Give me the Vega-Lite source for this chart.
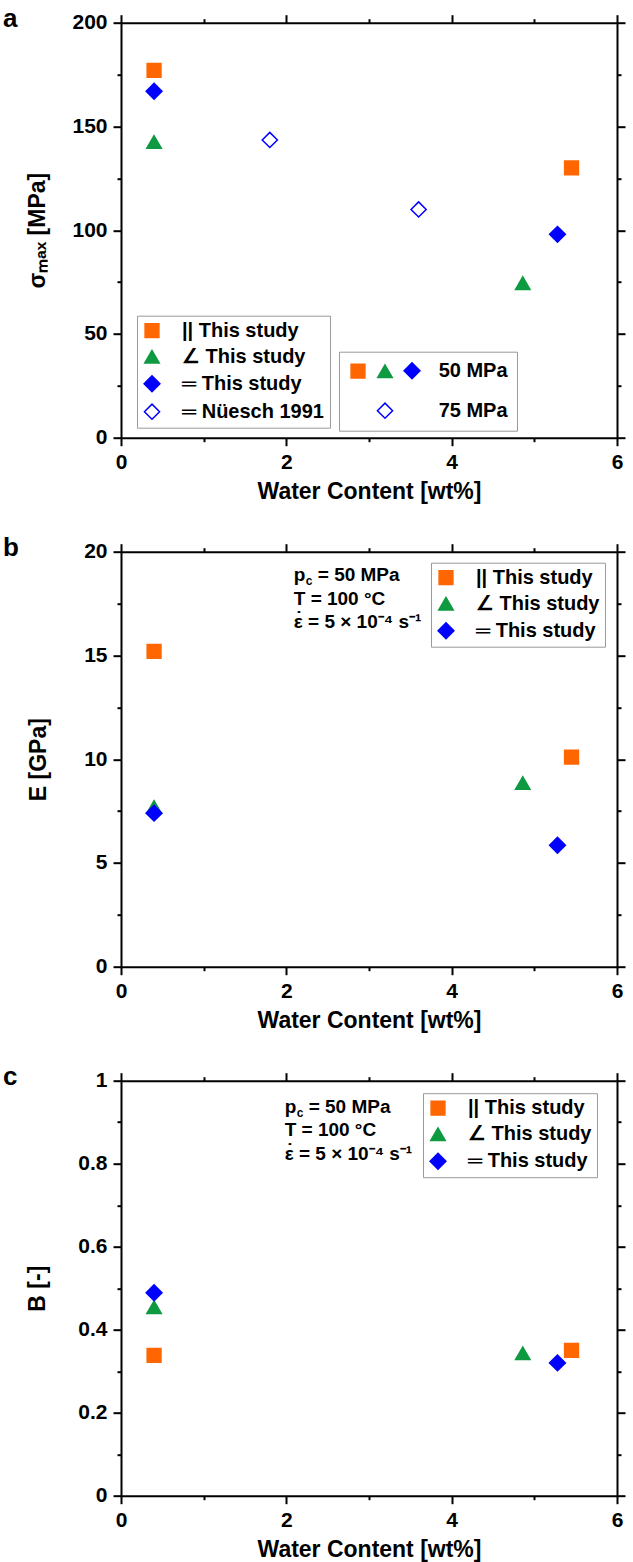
{
  "$schema": "https://vega.github.io/schema/vega-lite/v6.json",
  "padding": {"left": 3, "top": 5.7, "right": 0, "bottom": 0},
  "spacing": 31,
  "datasets": {
    "a": [
      {"wc": 0.4, "val": 177, "series": "|| This study", "pc": "50 MPa"},
      {"wc": 5.45, "val": 130, "series": "|| This study", "pc": "50 MPa"},
      {"wc": 0.4, "val": 142.5, "series": "∠ This study", "pc": "50 MPa"},
      {"wc": 4.86, "val": 74.5, "series": "∠ This study", "pc": "50 MPa"},
      {"wc": 0.4, "val": 167, "series": "═ This study", "pc": "50 MPa"},
      {"wc": 5.28, "val": 98, "series": "═ This study", "pc": "50 MPa"},
      {"wc": 1.8, "val": 143.5, "series": "═ Nüesch 1991", "pc": "75 MPa"},
      {"wc": 3.6, "val": 110, "series": "═ Nüesch 1991", "pc": "75 MPa"}
    ],
    "b": [
      {"wc": 0.4, "val": 15.2, "series": "|| This study"},
      {"wc": 5.45, "val": 10.1, "series": "|| This study"},
      {"wc": 0.4, "val": 7.7, "series": "∠ This study"},
      {"wc": 4.86, "val": 8.85, "series": "∠ This study"},
      {"wc": 0.4, "val": 7.4, "series": "═ This study"},
      {"wc": 5.28, "val": 5.85, "series": "═ This study"}
    ],
    "c": [
      {"wc": 0.4, "val": 0.338, "series": "|| This study"},
      {"wc": 5.45, "val": 0.35, "series": "|| This study"},
      {"wc": 0.4, "val": 0.454, "series": "∠ This study"},
      {"wc": 4.86, "val": 0.343, "series": "∠ This study"},
      {"wc": 0.4, "val": 0.489, "series": "═ This study"},
      {"wc": 5.28, "val": 0.32, "series": "═ This study"}
    ]
  },
  "config": {
    "font": "Liberation Sans",
    "view": {"stroke": null},
    "axis": {
      "domainColor": "black", "domainWidth": 2, "tickColor": "black", "tickWidth": 2,
      "grid": false, "labelFont": "Liberation Sans", "labelFontSize": 21, "labelFontWeight": "bold",
      "labelColor": "black", "titleFont": "Liberation Sans", "titleFontSize": 23, "titleFontWeight": "bold",
      "titleColor": "black", "labelPadding": 6, "labelFlush": false, "labelOverlap": false
    },
    "legend": {
      "labelFont": "Liberation Sans", "labelFontSize": 20, "labelFontWeight": "bold", "labelColor": "black",
      "strokeColor": "#9a9a9a", "fillColor": "white", "padding": 5, "symbolStrokeWidth": 1.5,
      "labelLimit": 400, "symbolOpacity": 1
    },
    "title": {"font": "Liberation Sans", "fontSize": 26, "fontWeight": "bold", "color": "black"}
  },
  "resolve": {
    "scale": {"shape": "independent", "fill": "independent", "stroke": "independent", "size": "independent"},
    "legend": {"shape": "independent", "fill": "independent", "stroke": "independent", "size": "independent"}
  },
  "vconcat": [
    {
      "width": 496, "height": 415,
      "title": {"text": "a", "anchor": "start", "frame": "group", "orient": "top", "offset": 0, "dx": -118, "dy": 41.5, "baseline": "alphabetic"},
      "data": {"name": "a"},
      "resolve": {
        "axis": {"x": "independent", "y": "independent"},
        "scale": {"shape": "independent", "fill": "independent", "stroke": "independent", "size": "independent"},
        "legend": {"shape": "independent", "fill": "independent", "stroke": "independent", "size": "independent"}
      },
      "layer": [
        {
          "mark": {"type": "point", "strokeWidth": 1.5, "opacity": 1},
          "encoding": {
            "x": {"field": "wc", "type": "quantitative", "scale": {"domain": [0, 6], "nice": false, "zero": false},
              "axis": {"orient": "bottom", "values": [0, 2, 4, 6], "tickSize": 8, "title": "Water Content [wt%]", "titlePadding": 8}},
            "y": {"field": "val", "type": "quantitative", "scale": {"domain": [0, 200], "nice": false},
              "axis": {"orient": "left", "values": [0, 50, 100, 150, 200], "tickSize": 8, "title": "σₘₐₓ [MPa]", "titlePadding": 22}},
            "fill": {"field": "series", "type": "nominal",
              "scale": {"domain": ["|| This study", "∠ This study", "═ This study", "═ Nüesch 1991"], "range": ["#FF6600", "#0E9A40", "#0000FF", "#FFFFFF"]},
              "legend": {"orient": "none", "legendX": 16, "legendY": 293, "title": null, "labelOffset": 20, "rowPadding": 6, "padding": 5}},
            "stroke": {"field": "series", "type": "nominal",
              "scale": {"domain": ["|| This study", "∠ This study", "═ This study", "═ Nüesch 1991"], "range": ["#FF6600", "#0E9A40", "#0000FF", "#0000FF"]}},
            "shape": {"field": "series", "type": "nominal",
              "scale": {"domain": ["|| This study", "∠ This study", "═ This study", "═ Nüesch 1991"], "range": ["square", "triangle-up", "diamond", "diamond"]}},
            "size": {"field": "series", "type": "nominal",
              "scale": {"type": "ordinal", "domain": ["|| This study", "∠ This study", "═ This study", "═ Nüesch 1991"], "range": [190, 210, 250, 230]}}
          }
        },
        {
          "transform": [{"filter": "false"}],
          "mark": {"type": "point", "strokeWidth": 1.5, "opacity": 1},
          "encoding": {
            "x": {"field": "wc", "type": "quantitative", "axis": null},
            "y": {"field": "val", "type": "quantitative", "axis": null},
            "fill": {"field": "pc", "type": "nominal",
              "scale": {"domain": ["50 MPa a", "50 MPa b", "50 MPa", "75 MPa a", "75 MPa b", "75 MPa"], "range": ["#FF6600", "#0E9A40", "#0000FF", "transparent", "#FFFFFF", "transparent"]},
              "legend": {
                "orient": "none", "legendX": 218, "legendY": 329, "title": null, "columns": 3, "direction": "horizontal",
                "labelOffset": 0, "columnPadding": 5, "rowPadding": 18, "padding": 9,
                "labelExpr": "(datum.label == '50 MPa' || datum.label == '75 MPa') ? '\u200b\u00a0\u00a0\u00a0' + datum.label : ''"
              }},
            "stroke": {"field": "pc", "type": "nominal",
              "scale": {"domain": ["50 MPa a", "50 MPa b", "50 MPa", "75 MPa a", "75 MPa b", "75 MPa"], "range": ["#FF6600", "#0E9A40", "#0000FF", "transparent", "#0000FF", "transparent"]}},
            "shape": {"field": "pc", "type": "nominal",
              "scale": {"domain": ["50 MPa a", "50 MPa b", "50 MPa", "75 MPa a", "75 MPa b", "75 MPa"], "range": ["square", "triangle-up", "diamond", "diamond", "diamond", "diamond"]}},
            "size": {"field": "pc", "type": "nominal",
              "scale": {"type": "ordinal", "domain": ["50 MPa a", "50 MPa b", "50 MPa", "75 MPa a", "75 MPa b", "75 MPa"], "range": [190, 210, 250, 250, 230, 250]}}
          }
        },
        {
          "mark": {"type": "point", "opacity": 0},
          "encoding": {
            "x": {"field": "wc", "type": "quantitative", "axis": {"orient": "bottom", "values": [1, 3, 5], "tickSize": 4, "labels": false, "domain": false, "title": null}},
            "y": {"field": "val", "type": "quantitative", "axis": {"orient": "left", "values": [25, 75, 125, 175], "tickSize": 4, "labels": false, "domain": false, "title": null}}
          }
        },
        {
          "mark": {"type": "point", "opacity": 0},
          "encoding": {
            "x": {"field": "wc", "type": "quantitative", "axis": {"orient": "top", "values": [0, 2, 4, 6], "tickSize": 8, "labels": false, "title": null}},
            "y": {"field": "val", "type": "quantitative", "axis": {"orient": "right", "values": [0, 50, 100, 150, 200], "tickSize": 8, "labels": false, "title": null}}
          }
        },
        {
          "mark": {"type": "point", "opacity": 0},
          "encoding": {
            "x": {"field": "wc", "type": "quantitative", "axis": {"orient": "top", "values": [1, 3, 5], "tickSize": 4, "labels": false, "domain": false, "title": null}},
            "y": {"field": "val", "type": "quantitative", "axis": {"orient": "right", "values": [25, 75, 125, 175], "tickSize": 4, "labels": false, "domain": false, "title": null}}
          }
        }
      ]
    },
    {
      "width": 496, "height": 415,
      "title": {"text": "b", "anchor": "start", "frame": "group", "orient": "top", "offset": 0, "dx": -118, "dy": 41.5, "baseline": "alphabetic"},
      "data": {"name": "b"},
      "resolve": {"axis": {"x": "independent", "y": "independent"}},
      "layer": [
        {
          "mark": {"type": "point", "strokeWidth": 1.5, "opacity": 1},
          "encoding": {
            "x": {"field": "wc", "type": "quantitative", "scale": {"domain": [0, 6], "nice": false, "zero": false},
              "axis": {"orient": "bottom", "values": [0, 2, 4, 6], "tickSize": 8, "title": "Water Content [wt%]", "titlePadding": 8}},
            "y": {"field": "val", "type": "quantitative", "scale": {"domain": [0, 20], "nice": false},
              "axis": {"orient": "left", "values": [0, 5, 10, 15, 20], "tickSize": 8, "title": "E [GPa]", "titlePadding": 33}},
            "fill": {"field": "series", "type": "nominal",
              "scale": {"domain": ["|| This study", "∠ This study", "═ This study"], "range": ["#FF6600", "#0E9A40", "#0000FF"]},
              "legend": {"orient": "none", "legendX": 310, "legendY": 11, "title": null, "labelOffset": 20, "rowPadding": 6, "padding": 5}},
            "stroke": {"field": "series", "type": "nominal",
              "scale": {"domain": ["|| This study", "∠ This study", "═ This study"], "range": ["#FF6600", "#0E9A40", "#0000FF"]}},
            "shape": {"field": "series", "type": "nominal",
              "scale": {"domain": ["|| This study", "∠ This study", "═ This study"], "range": ["square", "triangle-up", "diamond"]}},
            "size": {"field": "series", "type": "nominal",
              "scale": {"type": "ordinal", "domain": ["|| This study", "∠ This study", "═ This study"], "range": [190, 210, 250]}}
          }
        },
        {
          "mark": {"type": "point", "opacity": 0},
          "encoding": {
            "x": {"field": "wc", "type": "quantitative", "axis": {"orient": "bottom", "values": [1, 3, 5], "tickSize": 4, "labels": false, "domain": false, "title": null}},
            "y": {"field": "val", "type": "quantitative", "axis": {"orient": "left", "values": [2.5, 7.5, 12.5, 17.5], "tickSize": 4, "labels": false, "domain": false, "title": null}}
          }
        },
        {
          "mark": {"type": "point", "opacity": 0},
          "encoding": {
            "x": {"field": "wc", "type": "quantitative", "axis": {"orient": "top", "values": [0, 2, 4, 6], "tickSize": 8, "labels": false, "title": null}},
            "y": {"field": "val", "type": "quantitative", "axis": {"orient": "right", "values": [0, 5, 10, 15, 20], "tickSize": 8, "labels": false, "title": null}}
          }
        },
        {
          "mark": {"type": "point", "opacity": 0},
          "encoding": {
            "x": {"field": "wc", "type": "quantitative", "axis": {"orient": "top", "values": [1, 3, 5], "tickSize": 4, "labels": false, "domain": false, "title": null}},
            "y": {"field": "val", "type": "quantitative", "axis": {"orient": "right", "values": [2.5, 7.5, 12.5, 17.5], "tickSize": 4, "labels": false, "domain": false, "title": null}}
          }
        },
        {
          "data": {"values": [{}]},
          "mark": {"type": "text", "align": "left", "baseline": "alphabetic", "fontSize": 19, "fontWeight": "bold", "font": "Liberation Sans", "color": "black"},
          "encoding": {
            "x": {"datum": 2.09, "type": "quantitative", "axis": null},
            "y": {"datum": 18.57, "type": "quantitative", "axis": null},
            "text": {"value": "p"}
          }
        },
        {
          "data": {"values": [{}]},
          "mark": {"type": "text", "align": "left", "baseline": "alphabetic", "fontSize": 12, "fontWeight": "bold", "font": "Liberation Sans", "dx": 12, "dy": 4, "color": "black"},
          "encoding": {
            "x": {"datum": 2.09, "type": "quantitative", "axis": null},
            "y": {"datum": 18.57, "type": "quantitative", "axis": null},
            "text": {"value": "c"}
          }
        },
        {
          "data": {"values": [{}]},
          "mark": {"type": "text", "align": "left", "baseline": "alphabetic", "fontSize": 19, "fontWeight": "bold", "font": "Liberation Sans", "dx": 24, "color": "black"},
          "encoding": {
            "x": {"datum": 2.09, "type": "quantitative", "axis": null},
            "y": {"datum": 18.57, "type": "quantitative", "axis": null},
            "text": {"value": "= 50 MPa"}
          }
        },
        {
          "data": {"values": [{}]},
          "mark": {"type": "text", "align": "left", "baseline": "alphabetic", "fontSize": 19, "fontWeight": "bold", "font": "Liberation Sans", "lineHeight": 23.5, "dy": 23.5, "color": "black"},
          "encoding": {
            "x": {"datum": 2.09, "type": "quantitative", "axis": null},
            "y": {"datum": 18.57, "type": "quantitative", "axis": null},
            "text": {"value": ["T = 100 °C", "ε = 5 × 10⁻⁴ s⁻¹"]}
          }
        },
        {
          "data": {"values": [{}]},
          "mark": {"type": "text", "align": "left", "baseline": "alphabetic", "fontSize": 19, "fontWeight": "bold", "font": "Liberation Sans", "dx": 2, "dy": 44, "color": "black"},
          "encoding": {
            "x": {"datum": 2.09, "type": "quantitative", "axis": null},
            "y": {"datum": 18.57, "type": "quantitative", "axis": null},
            "text": {"value": "˙"}
          }
        }
      ]
    },
    {
      "width": 496, "height": 415,
      "title": {"text": "c", "anchor": "start", "frame": "group", "orient": "top", "offset": 0, "dx": -118, "dy": 41.5, "baseline": "alphabetic"},
      "data": {"name": "c"},
      "resolve": {"axis": {"x": "independent", "y": "independent"}},
      "layer": [
        {
          "mark": {"type": "point", "strokeWidth": 1.5, "opacity": 1},
          "encoding": {
            "x": {"field": "wc", "type": "quantitative", "scale": {"domain": [0, 6], "nice": false, "zero": false},
              "axis": {"orient": "bottom", "values": [0, 2, 4, 6], "tickSize": 8, "title": "Water Content [wt%]", "titlePadding": 8}},
            "y": {"field": "val", "type": "quantitative", "scale": {"domain": [0, 1], "nice": false},
              "axis": {"orient": "left", "values": [0, 0.2, 0.4, 0.6, 0.8, 1], "format": "~g", "tickSize": 8, "title": "B [-]", "titlePadding": 28}},
            "fill": {"field": "series", "type": "nominal",
              "scale": {"domain": ["|| This study", "∠ This study", "═ This study"], "range": ["#FF6600", "#0E9A40", "#0000FF"]},
              "legend": {"orient": "none", "legendX": 302, "legendY": 12.5, "title": null, "labelOffset": 20, "rowPadding": 6, "padding": 5}},
            "stroke": {"field": "series", "type": "nominal",
              "scale": {"domain": ["|| This study", "∠ This study", "═ This study"], "range": ["#FF6600", "#0E9A40", "#0000FF"]}},
            "shape": {"field": "series", "type": "nominal",
              "scale": {"domain": ["|| This study", "∠ This study", "═ This study"], "range": ["square", "triangle-up", "diamond"]}},
            "size": {"field": "series", "type": "nominal",
              "scale": {"type": "ordinal", "domain": ["|| This study", "∠ This study", "═ This study"], "range": [190, 210, 250]}}
          }
        },
        {
          "mark": {"type": "point", "opacity": 0},
          "encoding": {
            "x": {"field": "wc", "type": "quantitative", "axis": {"orient": "bottom", "values": [1, 3, 5], "tickSize": 4, "labels": false, "domain": false, "title": null}},
            "y": {"field": "val", "type": "quantitative", "axis": {"orient": "left", "values": [0.1, 0.3, 0.5, 0.7, 0.9], "tickSize": 4, "labels": false, "domain": false, "title": null}}
          }
        },
        {
          "mark": {"type": "point", "opacity": 0},
          "encoding": {
            "x": {"field": "wc", "type": "quantitative", "axis": {"orient": "top", "values": [0, 2, 4, 6], "tickSize": 8, "labels": false, "title": null}},
            "y": {"field": "val", "type": "quantitative", "axis": {"orient": "right", "values": [0, 0.2, 0.4, 0.6, 0.8, 1], "tickSize": 8, "labels": false, "title": null}}
          }
        },
        {
          "mark": {"type": "point", "opacity": 0},
          "encoding": {
            "x": {"field": "wc", "type": "quantitative", "axis": {"orient": "top", "values": [1, 3, 5], "tickSize": 4, "labels": false, "domain": false, "title": null}},
            "y": {"field": "val", "type": "quantitative", "axis": {"orient": "right", "values": [0.1, 0.3, 0.5, 0.7, 0.9], "tickSize": 4, "labels": false, "domain": false, "title": null}}
          }
        },
        {
          "data": {"values": [{}]},
          "mark": {"type": "text", "align": "left", "baseline": "alphabetic", "fontSize": 19, "fontWeight": "bold", "font": "Liberation Sans", "color": "black"},
          "encoding": {
            "x": {"datum": 1.98, "type": "quantitative", "axis": null},
            "y": {"datum": 0.922, "type": "quantitative", "axis": null},
            "text": {"value": "p"}
          }
        },
        {
          "data": {"values": [{}]},
          "mark": {"type": "text", "align": "left", "baseline": "alphabetic", "fontSize": 12, "fontWeight": "bold", "font": "Liberation Sans", "dx": 12, "dy": 4, "color": "black"},
          "encoding": {
            "x": {"datum": 1.98, "type": "quantitative", "axis": null},
            "y": {"datum": 0.922, "type": "quantitative", "axis": null},
            "text": {"value": "c"}
          }
        },
        {
          "data": {"values": [{}]},
          "mark": {"type": "text", "align": "left", "baseline": "alphabetic", "fontSize": 19, "fontWeight": "bold", "font": "Liberation Sans", "dx": 24, "color": "black"},
          "encoding": {
            "x": {"datum": 1.98, "type": "quantitative", "axis": null},
            "y": {"datum": 0.922, "type": "quantitative", "axis": null},
            "text": {"value": "= 50 MPa"}
          }
        },
        {
          "data": {"values": [{}]},
          "mark": {"type": "text", "align": "left", "baseline": "alphabetic", "fontSize": 19, "fontWeight": "bold", "font": "Liberation Sans", "lineHeight": 23.3, "dy": 23.3, "color": "black"},
          "encoding": {
            "x": {"datum": 1.98, "type": "quantitative", "axis": null},
            "y": {"datum": 0.922, "type": "quantitative", "axis": null},
            "text": {"value": ["T = 100 °C", "ε = 5 × 10⁻⁴ s⁻¹"]}
          }
        },
        {
          "data": {"values": [{}]},
          "mark": {"type": "text", "align": "left", "baseline": "alphabetic", "fontSize": 19, "fontWeight": "bold", "font": "Liberation Sans", "dx": 2, "dy": 43.6, "color": "black"},
          "encoding": {
            "x": {"datum": 1.98, "type": "quantitative", "axis": null},
            "y": {"datum": 0.922, "type": "quantitative", "axis": null},
            "text": {"value": "˙"}
          }
        }
      ]
    }
  ]
}
